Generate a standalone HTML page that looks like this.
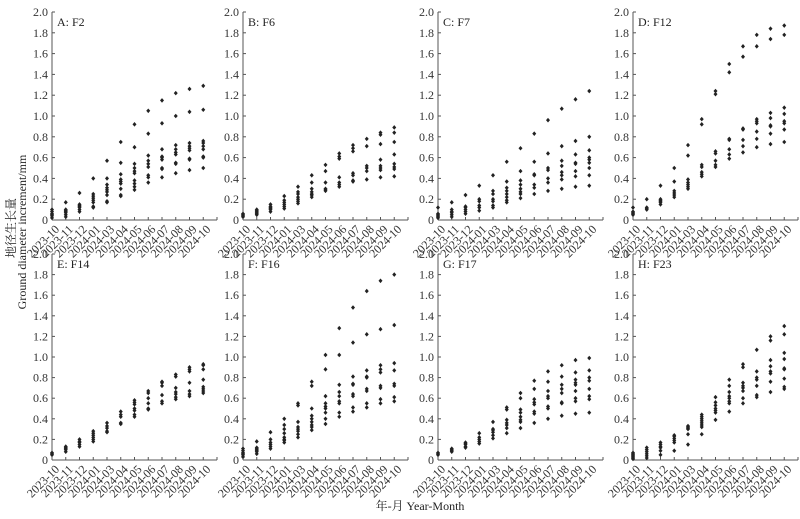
<!DOCTYPE html>
<html><head><meta charset="utf-8">
<style>
html,body{margin:0;padding:0;background:#fff;}
svg{display:block;font-family:"Liberation Serif","Noto Serif CJK SC",serif;}
</style></head>
<body>
<svg id="chart" width="800" height="519" viewBox="0 0 800 519" xmlns="http://www.w3.org/2000/svg">
<text transform="translate(15,228) rotate(-90)" text-anchor="middle" font-size="12" fill="#222">地径生长量</text>
<text transform="translate(26,232) rotate(-90)" text-anchor="middle" font-size="12" fill="#222">Ground diameter increment/mm</text>
<text x="420" y="510" text-anchor="middle" font-size="12" fill="#222">年-月 Year-Month</text>
</svg>
<script>
const months = ["2023-10","2023-11","2023-12","2024-01","2024-03","2024-04","2024-05","2024-06","2024-07","2024-08","2024-09","2024-10"];
const yTicks = [0,0.2,0.4,0.6,0.8,1.0,1.2,1.4,1.6,1.8,2.0];
const panelLabels = ["A: F2","B: F6","C: F7","D: F12","E: F14","F: F16","G: F17","H: F23"];
const dataA = [[0.02,0.04,0.05,0.06,0.08,0.1],[0.03,0.05,0.07,0.08,0.09,0.1,0.17],[0.08,0.1,0.12,0.13,0.14,0.15,0.26],[0.12,0.13,0.17,0.19,0.21,0.23,0.25,0.4],[0.17,0.18,0.24,0.27,0.29,0.31,0.34,0.4,0.57],[0.23,0.24,0.3,0.35,0.37,0.39,0.44,0.55,0.75],[0.29,0.32,0.35,0.38,0.45,0.47,0.5,0.54,0.7,0.92],[0.36,0.41,0.43,0.51,0.54,0.57,0.62,0.83,1.05],[0.41,0.49,0.5,0.58,0.6,0.61,0.68,0.93,1.15],[0.45,0.54,0.55,0.63,0.65,0.68,0.72,1.0,1.22],[0.48,0.58,0.59,0.67,0.69,0.71,0.74,1.04,1.26],[0.5,0.6,0.61,0.68,0.71,0.74,0.76,1.06,1.29]];
const dataB = [[0.03,0.04,0.05,0.06],[0.05,0.06,0.07,0.08,0.09,0.1],[0.08,0.1,0.11,0.12,0.13,0.15],[0.11,0.13,0.15,0.17,0.19,0.23],[0.16,0.18,0.2,0.22,0.25,0.27,0.32],[0.22,0.24,0.25,0.27,0.3,0.36,0.43],[0.28,0.29,0.3,0.36,0.47,0.53],[0.32,0.34,0.36,0.41,0.59,0.61,0.64],[0.37,0.38,0.43,0.45,0.66,0.69,0.72],[0.39,0.47,0.5,0.52,0.71,0.78],[0.41,0.48,0.5,0.52,0.58,0.73,0.82,0.84],[0.42,0.49,0.51,0.54,0.63,0.75,0.84,0.89]];
const dataC = [[0.02,0.03,0.04,0.05,0.06,0.12],[0.03,0.05,0.07,0.08,0.1,0.17],[0.06,0.08,0.1,0.12,0.13,0.24],[0.09,0.12,0.14,0.18,0.2,0.33],[0.12,0.14,0.18,0.2,0.25,0.28,0.43],[0.17,0.19,0.22,0.25,0.28,0.31,0.37,0.56],[0.21,0.25,0.27,0.3,0.34,0.38,0.47,0.69],[0.25,0.31,0.34,0.43,0.44,0.56,0.83],[0.28,0.36,0.4,0.48,0.5,0.64,0.96],[0.3,0.39,0.43,0.46,0.52,0.57,0.71,1.07],[0.32,0.42,0.47,0.54,0.55,0.63,0.76,1.16],[0.33,0.43,0.5,0.55,0.58,0.6,0.67,0.8,1.24]];
const dataD = [[0.05,0.06,0.07,0.08,0.12],[0.1,0.11,0.12,0.2],[0.15,0.17,0.18,0.19,0.2,0.33],[0.22,0.24,0.26,0.28,0.37,0.5],[0.3,0.32,0.34,0.36,0.39,0.62,0.72],[0.42,0.44,0.46,0.51,0.53,0.92,0.97],[0.51,0.53,0.57,0.64,0.66,1.21,1.24],[0.59,0.63,0.68,0.77,0.78,1.42,1.5],[0.65,0.71,0.77,0.87,0.88,1.57,1.67],[0.7,0.78,0.85,0.93,0.95,0.97,1.67,1.78],[0.73,0.83,0.9,0.91,0.98,1.03,1.74,1.84],[0.75,0.87,0.93,0.95,1.02,1.08,1.78,1.87]];
const dataE = [[0.05,0.06,0.07],[0.08,0.1,0.11,0.12,0.13],[0.13,0.15,0.17,0.18,0.2],[0.18,0.2,0.22,0.24,0.26,0.28],[0.27,0.28,0.31,0.33,0.36],[0.35,0.36,0.42,0.44,0.47],[0.42,0.44,0.48,0.5,0.54,0.56,0.58],[0.49,0.5,0.55,0.6,0.65,0.67],[0.55,0.57,0.63,0.72,0.75,0.76],[0.59,0.61,0.64,0.66,0.7,0.81,0.83],[0.62,0.64,0.67,0.75,0.86,0.88,0.9],[0.65,0.67,0.69,0.71,0.78,0.88,0.92,0.93]];
const dataF = [[0.03,0.05,0.06,0.07,0.09,0.11],[0.06,0.08,0.09,0.1,0.11,0.12,0.18],[0.11,0.13,0.15,0.17,0.2,0.27],[0.17,0.19,0.2,0.22,0.26,0.3,0.34,0.4],[0.22,0.25,0.28,0.3,0.32,0.37,0.53,0.55],[0.29,0.32,0.34,0.37,0.4,0.43,0.5,0.72,0.76],[0.35,0.4,0.46,0.5,0.52,0.55,0.62,0.88,1.02],[0.42,0.46,0.55,0.57,0.62,0.66,0.73,1.02,1.28],[0.47,0.51,0.62,0.64,0.73,0.74,0.81,1.14,1.48],[0.51,0.55,0.67,0.69,0.8,0.81,0.87,1.22,1.64],[0.55,0.59,0.7,0.72,0.85,0.88,0.92,1.27,1.74],[0.57,0.61,0.72,0.74,0.87,0.94,1.31,1.8]];
const dataG = [[0.05,0.06,0.07],[0.08,0.09,0.1,0.11],[0.12,0.13,0.15,0.16,0.17],[0.16,0.18,0.2,0.22,0.26],[0.21,0.24,0.27,0.29,0.3,0.37],[0.26,0.31,0.34,0.36,0.39,0.49,0.51],[0.31,0.37,0.39,0.42,0.46,0.49,0.6,0.65],[0.36,0.45,0.47,0.54,0.56,0.59,0.69,0.77],[0.4,0.5,0.52,0.6,0.62,0.67,0.76,0.86],[0.43,0.55,0.56,0.65,0.69,0.73,0.81,0.92],[0.45,0.57,0.6,0.67,0.73,0.75,0.78,0.85,0.97],[0.46,0.59,0.62,0.69,0.77,0.8,0.87,0.99]];
const dataH = [[0.01,0.02,0.03,0.04,0.05,0.06,0.07],[0.02,0.04,0.06,0.08,0.1,0.12],[0.05,0.09,0.12,0.13,0.15,0.17],[0.09,0.17,0.19,0.21,0.23,0.24],[0.15,0.25,0.3,0.31,0.32,0.33],[0.25,0.32,0.34,0.36,0.38,0.4,0.42,0.44],[0.39,0.46,0.48,0.5,0.53,0.56,0.61],[0.47,0.55,0.57,0.6,0.62,0.66,0.72,0.78],[0.55,0.6,0.67,0.7,0.72,0.75,0.9,0.93],[0.61,0.63,0.72,0.78,0.8,0.86,1.07],[0.66,0.76,0.84,0.86,0.91,0.97,1.16,1.2],[0.69,0.71,0.79,0.88,0.89,0.98,1.04,1.22,1.3]];
const allData = [dataA,dataB,dataC,dataD,dataE,dataF,dataG,dataH];

const NS = "http://www.w3.org/2000/svg";
const svg = document.getElementById("chart");
const colX = [52,243,438,633];
const rowY0 = [220,460];
const rowH = [208,206];
const step = 13.75;
function mk(tag, attrs, parent){
  const e = document.createElementNS(NS, tag);
  for (const k in attrs) e.setAttribute(k, attrs[k]);
  (parent||svg).appendChild(e);
  return e;
}
allData.forEach((data, p) => {
  const x0 = colX[p % 4], row = Math.floor(p / 4), y0 = rowY0[row], h = rowH[row];
  const xs = i => x0 + i * step;
  const ys = v => y0 - v / 2 * h;
  const g = mk("g", {});
  
  
  const ya = mk("line", {x1:x0, y1:ys(2), x2:x0, y2:y0, stroke:"#555", "stroke-width":1}, g);
  
  
  const xEnd = xs(months.length);
  const xa = mk("line", {x1:x0, y1:y0, x2:xEnd, y2:y0, stroke:"#555", "stroke-width":1}, g);
  
  
  yTicks.forEach(t => {
    mk("line", {x1:x0, y1:ys(t), x2:x0+3, y2:ys(t), stroke:"#555"}, g);
    const lb = mk("text", {x:x0-4, y:ys(t)+4, "text-anchor":"end", "font-size":12, fill:"#333"}, g);
    lb.textContent = t === 0 ? "0" : t.toFixed(1);
    
    
  });
  for (let i = 0; i <= months.length; i++) {
    mk("line", {x1:xs(i), y1:y0, x2:xs(i), y2:y0-3, stroke:"#555"}, g);
  }
  months.forEach((m, i) => {
    const tx = xs(i) + 8, ty = y0 + 10;
    const lb = mk("text", {x:tx, y:ty, "text-anchor":"end", "font-size":12, fill:"#333", transform:"rotate(-45 "+tx+" "+ty+")"}, g);
    lb.textContent = m;
    
    
  });
  const title = mk("text", {x:x0+5, y:ys(2)+14, "font-size":12, fill:"#222"}, g);
  title.textContent = panelLabels[p];
  
  
  data.forEach((vals, i) => {
    vals.forEach(v => {
      const cx = xs(i), cy = ys(v);
      const pt = mk("path", {d:"M"+cx+" "+(cy-2.3)+"L"+(cx+2)+" "+cy+"L"+cx+" "+(cy+2.3)+"L"+(cx-2)+" "+cy+"Z", fill:"#222"}, g);
      
      
    });
  });
});
</script>
</body></html>
